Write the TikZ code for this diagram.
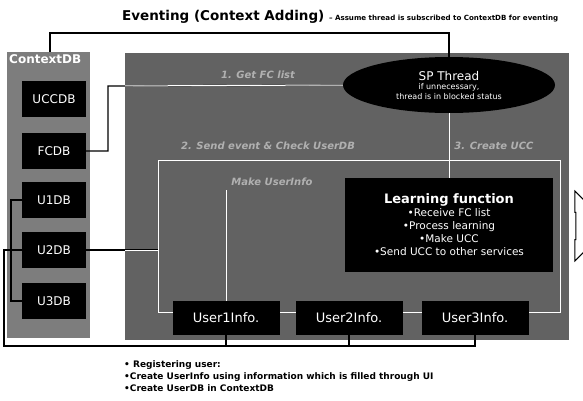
\documentclass[tikz,border=0pt]{standalone}
\usepackage{fontspec}
\setmainfont{DejaVu Sans}
\usetikzlibrary{arrows}
\usetikzlibrary{positioning}
\usetikzlibrary{shapes.geometric,shapes.arrows}
\definecolor{panelgray}{RGB}{98,98,98}
\definecolor{dbgray}{RGB}{125,125,125}

\begin{document}
\begin{tikzpicture}[x=1pt,y=-1pt,
  dbbox/.style={fill=black,text=white,minimum width=64,minimum height=36,font=\fontsize{12}{14}\selectfont},
  infobox/.style={fill=black,text=white,minimum width=107,minimum height=34,font=\fontsize{13}{15}\selectfont},
  wire/.style={line width=1.2pt,black},
  inwire/.style={line width=1pt,white},
  faint/.style={text=white,opacity=0.5,font=\bfseries\itshape\fontsize{10}{12}\selectfont}]
\useasboundingbox (0,0) rectangle (583,400);
% Draw the panels
\fill[dbgray] (7,52) rectangle (90,338);
\fill[panelgray] (125,53) rectangle (569,340);
\draw[inwire] (158,160) rectangle (560,312);
% Title
\node[anchor=west,inner sep=0pt] at (122,17) (Title) {\bfseries\fontsize{13.5}{16}\selectfont Eventing (Context Adding) {\fontsize{7.1}{8}\selectfont -- Assume thread is subscribed to ContextDB for eventing}};
% Give names to the databases
\node[anchor=north west,text=white,font=\bfseries\fontsize{12}{13}\selectfont,inner sep=1pt] at (8,53) (CtxLabel) {ContextDB};
\node[dbbox] at (54,99)  (UCCDB) {UCCDB};
\node[dbbox] at (54,151) (FCDB)  {FCDB};
\node[dbbox] at (54,200) (U1DB)  {U1DB};
\node[dbbox] at (54,250) (U2DB)  {U2DB};
\node[dbbox] at (54,301) (U3DB)  {U3DB};
% Give names to the thread and the function
\node[ellipse,fill=black,text=white,minimum width=212,minimum height=56,inner sep=0pt,align=center,font=\fontsize{8}{9.5}\selectfont] at (449,85) (SPThread)
  {{\fontsize{12}{14}\selectfont SP Thread}\\if unnecessary,\\thread is in blocked status};
\node[fill=black,text=white,minimum width=208,minimum height=94,align=center,font=\fontsize{10.5}{13}\selectfont] at (449,225) (Learning)
  {{\bfseries\fontsize{13}{15}\selectfont Learning function}\\
   •Receive FC list\\•Process learning\\•Make UCC\\•Send UCC to other services};
% Inner steps
\node[faint] at (258,75)  (StepOne)   {1. Get FC list};
\node[faint] at (268,146) (StepTwo)   {2. Send event \& Check UserDB};
\node[faint] at (494,146) (StepThree) {3. Create UCC};
\node[faint] at (272,182) (MakeInfo)  {Make UserInfo};
% Connectors
\coordinate (CtxTop) at (50,52);
\coordinate (TopBend) at (50,33);
\coordinate (FcBend) at (108,86);
\coordinate (RegionIn) at (158,250);
\coordinate (InfoTop) at (226,190);
\coordinate (BusLeft) at (11,250);
\coordinate (LoopTop) at (4,250);
\coordinate (LoopBot) at (4,346);
\draw[wire] (CtxTop) -- (TopBend) -| (SPThread.north);
\draw[wire] (FCDB.east) -| (FcBend) -- (SPThread.west);
\draw[wire] (U2DB.east) -- (RegionIn);
\begin{scope}
  \clip (125,53) rectangle (569,340);
  \draw[inwire] (FCDB.east) -| (FcBend) -- (SPThread.west);
  \draw[inwire] (U2DB.east) -- (RegionIn);
\end{scope}
\draw[inwire] (SPThread.south) -- (Learning.north);
% User info
\node[infobox] at (226,318) (User1) {User1Info.};
\node[infobox] at (349,318) (User2) {User2Info.};
\node[infobox] at (475,318) (User3) {User3Info.};
\draw[inwire] (InfoTop) -- (User1.north);
% Loop of user data
\draw[wire] (U1DB.west) -| (BusLeft) |- (U3DB.west);
\draw[wire] (U2DB.west) -- (LoopTop) -- (LoopBot) -| (User3.south);
\draw[wire] (User1.south) -- (User1.south |- LoopBot);
\draw[wire] (User2.south) -- (User2.south |- LoopBot);
% Output arrow
\node[single arrow,draw=black,fill=white,line width=1pt,minimum width=70,minimum height=34,single arrow head extend=6pt] at (586,226) (SendOut) {};
% Notes
\node[anchor=north west,align=left,inner sep=0pt,font=\bfseries\fontsize{9}{12}\selectfont] at (124,360) (Notes)
  {• Registering user:\\•Create UserInfo using information which is filled through UI\\•Create UserDB in ContextDB};
\end{tikzpicture}
\end{document}
